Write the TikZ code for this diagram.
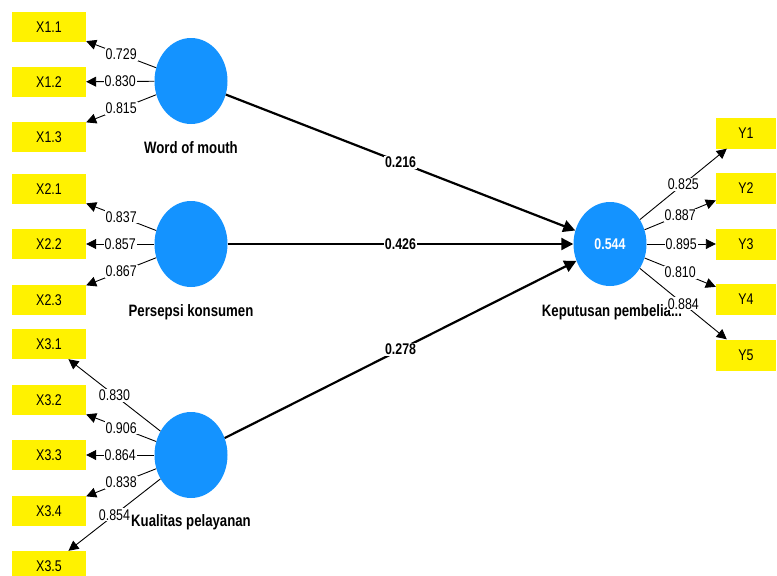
\documentclass[tikz,border=0pt]{standalone}
\usepackage{fontspec}
\setmainfont{Liberation Sans}[FakeStretch=0.8]
\usetikzlibrary{shapes.geometric,arrows.meta}
\definecolor{lvblue}{RGB}{20,147,255}
\begin{document}
\begin{tikzpicture}[x=1pt,y=-1pt,
 ind/.style={fill=yellow, minimum width=74pt, minimum height=30pt, inner sep=0pt, font=\fontsize{15.5}{17}\selectfont},
 indy/.style={ind, minimum width=60pt, minimum height=31pt},
 lv/.style={ellipse, fill=lvblue, minimum width=73pt, minimum height=86pt, inner sep=0pt},
 lvlab/.style={font=\bfseries\fontsize{16.5}{19}\selectfont},
 load/.style={line width=0.9pt, -{Triangle[length=10pt,width=10pt]}},
 lnum/.style={fill=white, inner sep=1pt, font=\fontsize{15.5}{17}\selectfont},
 pathc/.style={line width=2.2pt, -{Triangle[length=12pt,width=12pt]}},
 pnum/.style={fill=white, inner sep=1pt, font=\bfseries\fontsize{15.5}{17}\selectfont}]
\useasboundingbox (0,0) rectangle (777,576);
% indicators
\node[ind] (x11) at (49,27) {X1.1};
\node[ind] (x12) at (49,82) {X1.2};
\node[ind] (x13) at (49,137) {X1.3};
\node[ind] (x21) at (49,189) {X2.1};
\node[ind] (x22) at (49,244) {X2.2};
\node[ind] (x23) at (49,300) {X2.3};
\node[ind] (x31) at (49,344) {X3.1};
\node[ind] (x32) at (49,400) {X3.2};
\node[ind] (x33) at (49,455) {X3.3};
\node[ind] (x34) at (49,511) {X3.4};
\node[ind] (x35) at (49,566) {X3.5};
\node[indy] (y1) at (746,133) {Y1};
\node[indy] (y2) at (746,188) {Y2};
\node[indy] (y3) at (746,244) {Y3};
\node[indy] (y4) at (746,299) {Y4};
\node[indy] (y5) at (746,355) {Y5};
% latent variables
\node[lv] (wom) at (191,81) {};
\node[lv] (pk) at (191,244) {};
\node[lv] (kp) at (191,455) {};
\node[lv, minimum height=84pt, text=white, font=\bfseries\fontsize{15.5}{17}\selectfont] (kb) at (610,244) {0.544};
% names
\node[lvlab] (twom) at (191,148) {Word of mouth};
\node[lvlab] (tpk) at (191,312) {Persepsi konsumen};
\node[lvlab] (tkp) at (191,522) {Kualitas pelayanan};
\node[lvlab] (tkb) at (612,312) {Keputusan pembelia...};
% loadings
\draw[load] (wom) -- node[lnum]{0.729} (x11);
\draw[load] (wom) -- node[lnum]{0.830} (x12);
\draw[load] (wom) -- node[lnum]{0.815} (x13);
\draw[load] (pk) -- node[lnum]{0.837} (x21);
\draw[load] (pk) -- node[lnum]{0.857} (x22);
\draw[load] (pk) -- node[lnum]{0.867} (x23);
\draw[load] (kp) -- node[lnum]{0.830} (x31);
\draw[load] (kp) -- node[lnum]{0.906} (x32);
\draw[load] (kp) -- node[lnum]{0.864} (x33);
\draw[load] (kp) -- node[lnum]{0.838} (x34);
\draw[load] (kp) -- node[lnum]{0.854} (x35);
\draw[load] (kb) -- node[lnum]{0.825} (y1);
\draw[load] (kb) -- node[lnum]{0.887} (y2);
\draw[load] (kb) -- node[lnum]{0.895} (y3);
\draw[load] (kb) -- node[lnum]{0.810} (y4);
\draw[load] (kb) -- node[lnum]{0.884} (y5);
% paths
\draw[pathc] (wom) -- node[pnum]{0.216} (kb);
\draw[pathc] (pk) -- node[pnum]{0.426} (kb);
\draw[pathc] (kp) -- node[pnum]{0.278} (kb);
\end{tikzpicture}
\end{document}
